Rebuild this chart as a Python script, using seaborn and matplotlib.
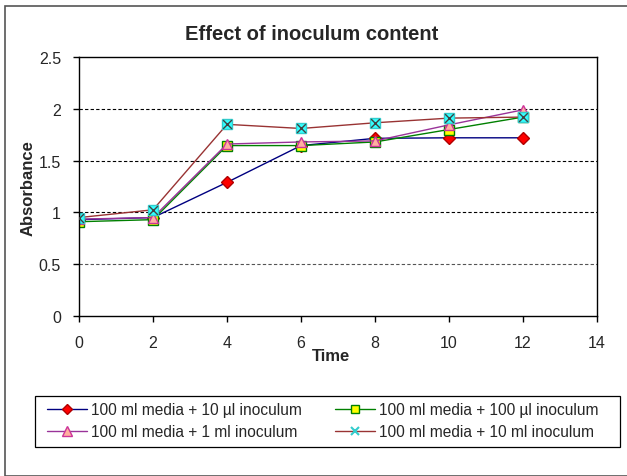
import matplotlib
matplotlib.use("Agg")
import matplotlib.pyplot as plt
import seaborn as sns
from matplotlib.lines import Line2D

sns.set_style("white")
plt.rcParams['font.family'] = ['Liberation Sans', 'DejaVu Sans']

time = [0, 2, 4, 6, 8, 10, 12]
s_10ul = [0.93, 0.95, 1.29, 1.645, 1.715, 1.72, 1.72]
s_100ul = [0.91, 0.93, 1.645, 1.645, 1.68, 1.80, 1.92]
s_1ml = [0.935, 0.95, 1.66, 1.68, 1.69, 1.845, 1.99]
s_10ml = [0.95, 1.025, 1.85, 1.81, 1.865, 1.91, 1.92]
labels = ["100 ml media + 10 µl inoculum", "100 ml media + 100 µl inoculum",
          "100 ml media + 1 ml inoculum", "100 ml media + 10 ml inoculum"]

fig = plt.figure(figsize=(6.27, 4.77), dpi=100)
ax = fig.add_axes([79/627, 1-317/477, (597-79)/627, (317-58)/477])

styles = [
    dict(color="#000080", marker="D", mfc="#ff0000", mec="#b00000", ms=6),
    dict(color="#008000", marker="s", mfc="#ffff00", mec="#008000", ms=7),
    dict(color="#993399", marker="^", mfc="#ffb0a0", mec="#cc3399", ms=7.5),
    dict(color="#993333", marker="s", mfc="#33ffff", mec="#33cccc", ms=7.5),
]
series = [s_10ul, s_100ul, s_1ml, s_10ml]
for vals, st in zip(series, styles):
    sns.lineplot(x=time, y=vals, ax=ax, color=st["color"], lw=1.0,
                 marker=st["marker"], markerfacecolor=st["mfc"],
                 markeredgecolor=st["mec"], markersize=st["ms"], markeredgewidth=1.0)
# X overlay on cyan markers
sns.scatterplot(x=time, y=s_10ml, ax=ax, marker="x", color="#404040", s=40,
                linewidth=1.0, zorder=5)

ax.set_xlim(0, 14)
ax.set_ylim(0, 2.5)
ax.set_xticks(range(0, 15, 2))
ax.set_yticks([0, 0.5, 1, 1.5, 2, 2.5])
ax.set_yticklabels(["0", "0.5", "1", "1.5", "2", "2.5"])
for yv in [0.5, 1, 1.5, 2]:
    ax.axhline(yv, color="#555555" if yv == 0.5 else "black", lw=0.8,
               ls=(0, (3, 2)), zorder=0)
for sp in ax.spines.values():
    sp.set_visible(True)
    sp.set_color("black")
    sp.set_linewidth(1.0)
ax.tick_params(axis="both", direction="out", length=4, width=1, color="black",
               labelsize=11.5, bottom=True, left=True)
ax.tick_params(axis="y", pad=9)
ax.tick_params(axis="x", pad=10)
ax.set_xlabel("")
ax.set_ylabel("")

fig.text(312/627, 1-34/477, "Effect of inoculum content", ha="center", va="center",
         fontsize=14.5, fontweight="bold")
fig.text(331/627, 1-357/477, "Time", ha="center", va="center",
         fontsize=12, fontweight="bold")
fig.text(28/627, 1-188/477, "Absorbance", ha="center", va="center",
         rotation=90, fontsize=12, fontweight="bold")

handles = []
for st in styles[:3]:
    handles.append(Line2D([], [], color=st["color"], lw=1.0, marker=st["marker"],
                          mfc=st["mfc"], mec=st["mec"], ms=st["ms"] - 1))
handles.append(Line2D([], [], color=styles[3]["color"], lw=1.0, marker="x",
                      mec="#33cccc", ms=6, mew=1.5))
order = [0, 2, 1, 3]
leg = fig.legend([handles[i] for i in order], [labels[i] for i in order],
                 ncol=2, loc="center left", bbox_to_anchor=(47/627, 1-421.5/477),
                 frameon=False, fontsize=11.2, handlelength=2.55, handletextpad=0.3,
                 columnspacing=2.1, borderpad=0, borderaxespad=0, labelspacing=0.45)

# legend frame
fig.patches.append(plt.Rectangle((35/627, 1-448/477), (620-35)/627, 51/477,
                                 transform=fig.transFigure, fill=False,
                                 edgecolor="black", lw=0.9))
# outer chart border
fig.patches.append(plt.Rectangle((5/627, 0), 1.2, 1-7/477, transform=fig.transFigure,
                                 fill=False, edgecolor="#555555", lw=1.2))

fig.savefig("out.png", dpi=100)
